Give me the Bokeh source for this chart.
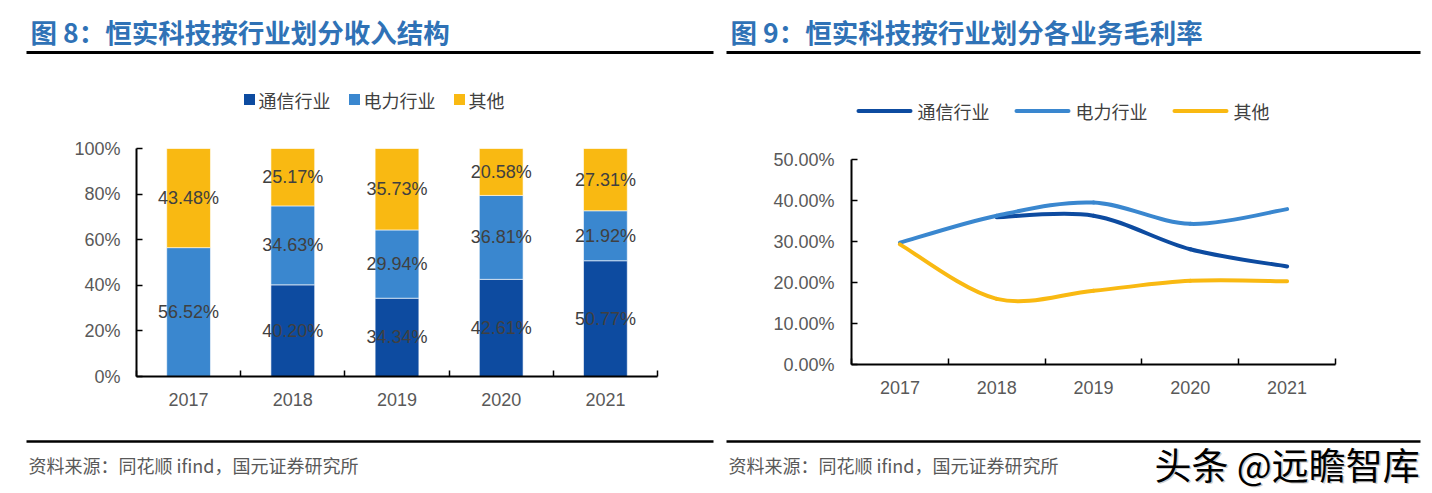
from bokeh.plotting import figure
from bokeh.layouts import row, column
from bokeh.models import Range1d, FixedTicker, PrintfTickFormatter, ColumnDataSource
from bokeh.core.properties import value
from bokeh.embed import file_html
from bokeh.resources import INLINE

# ---------------- data ----------------
years = ["2017", "2018", "2019", "2020", "2021"]
series = ["通信行业", "电力行业", "其他"]
colors = ["#0D4BA0", "#3A87CF", "#F9B912"]

# revenue structure (%)
rev_tongxin = [0.0, 40.20, 34.34, 42.61, 50.77]
rev_dianli = [56.52, 34.63, 29.94, 36.81, 21.92]
rev_qita = [43.48, 25.17, 35.73, 20.58, 27.31]

# gross margin (%)
gm_tongxin = [None, 35.9, 36.3, 28.1, 23.9]
gm_dianli = [29.7, 36.3, 39.5, 34.3, 37.9]
gm_qita = [29.3, 16.0, 18.0, 20.4, 20.3]

left_title = "图 8：恒实科技按行业划分收入结构"
right_title = "图 9：恒实科技按行业划分各业务毛利率"
source_note = "资料来源：同花顺 ifind，国元证券研究所"
watermark = "头条 @远瞻智库"

CJK = value("Noto Sans CJK SC")
ARIAL = value("Liberation Sans")
TITLE_BLUE = "#2F72B6"
AXIS_GRAY = "#595959"
LABEL_GRAY = "#404040"

LW, RW = 716, 708
HDR_H, PLOT_H, FTR_H = 130, 295, 68


def canvas(w, h):
    f = figure(width=w, height=h, x_range=Range1d(0, w), y_range=Range1d(h, 0),
               x_axis_type=None, y_axis_type=None, toolbar_location=None,
               output_backend="svg", min_border=0, outline_line_color=None,
               frame_align=False)
    f.grid.visible = False
    return f


def header(w, title, title_x, line_x0, line_x1):
    f = canvas(w, HDR_H)
    f.text(x=[title_x], y=[31], text=[title], text_font=CJK, text_font_size="26.5px",
           text_font_style="bold", text_color=TITLE_BLUE, text_baseline="middle")
    f.segment(x0=[line_x0], y0=[52], x1=[line_x1], y1=[52], line_color="black", line_width=3)
    return f


def footer(w, text_x, line_x0, line_x1, mark=False):
    f = canvas(w, FTR_H)
    f.segment(x0=[line_x0], y0=[16], x1=[line_x1], y1=[16], line_color="black", line_width=2.5)
    f.text(x=[text_x], y=[39], text=[source_note], text_font=CJK, text_font_size="18px",
           text_color=AXIS_GRAY, text_baseline="middle")
    if mark:
        f.text(x=[438], y=[38], text=[watermark], text_font=CJK, text_font_size="37px",
               text_color="#cccccc", text_baseline="middle", x_offset=1.5, y_offset=1.5)
        f.text(x=[438], y=[38], text=[watermark], text_font=CJK, text_font_size="37px",
               text_color="black", text_baseline="middle")
    return f


def style_axes(p, y_fmt, y_ticks, label_standoff_y, label_standoff_x):
    n = len(years)
    p.xaxis.ticker = FixedTicker(ticks=list(range(n)),
                                 minor_ticks=[i - 0.5 for i in range(n + 1)])
    p.xaxis.major_label_overrides = {i: y for i, y in enumerate(years)}
    p.xaxis.major_tick_line_color = None
    p.xaxis.minor_tick_line_color = "black"
    p.xaxis.minor_tick_line_width = 1.5
    p.xaxis.minor_tick_in = 6
    p.xaxis.minor_tick_out = 0
    p.xaxis.major_label_standoff = label_standoff_x
    p.yaxis.ticker = FixedTicker(ticks=y_ticks)
    p.yaxis.formatter = PrintfTickFormatter(format=y_fmt)
    p.yaxis.major_tick_in = 6
    p.yaxis.major_tick_out = 0
    p.yaxis.major_tick_line_color = "black"
    p.yaxis.major_tick_line_width = 1.5
    p.yaxis.minor_tick_line_color = None
    p.yaxis.major_label_standoff = label_standoff_y
    for ax in (p.xaxis, p.yaxis):
        ax.axis_line_color = "black"
        ax.axis_line_width = 2
        ax.major_label_text_font = "Liberation Sans"
        ax.major_label_text_font_size = "18px"
        ax.major_label_text_color = AXIS_GRAY
    p.grid.visible = False
    p.outline_line_color = None


# ---------------- left: stacked bars ----------------
hL = header(LW, left_title, 30, 26, 713)
leg_x = [249, 354, 459]
hL.rect(x=leg_x, y=[99, 99, 99], width=11, height=11, fill_color=colors, line_color=None)
hL.text(x=[x + 9 for x in leg_x], y=[99, 99, 99], text=series, text_font=CJK,
        text_font_size="18px", text_color=LABEL_GRAY, text_baseline="middle")

pL = figure(width=LW, height=PLOT_H, x_range=Range1d(-0.5, len(years) - 0.5),
            y_range=Range1d(0, 100), toolbar_location=None, output_backend="svg",
            min_border_left=136, min_border_right=59, min_border_top=18, min_border_bottom=49,
            frame_align=False)
xs = list(range(len(years)))
src = ColumnDataSource(dict(x=xs, tx=rev_tongxin, dl=rev_dianli, qt=rev_qita))
pL.vbar_stack(["tx", "dl", "qt"], x="x", width=0.42, color=colors, source=src,
              line_color="white", line_width=0.6)
lab_x, lab_y, lab_t = [], [], []
for i in xs:
    base = 0.0
    for v in (rev_tongxin[i], rev_dianli[i], rev_qita[i]):
        if v > 0:
            lab_x.append(i)
            lab_y.append(base + v / 2)
            lab_t.append("%.2f%%" % v)
        base += v
pL.text(x=lab_x, y=lab_y, text=lab_t, text_font=ARIAL, text_font_size="18px",
        text_color=LABEL_GRAY, text_align="center", text_baseline="middle")
style_axes(pL, "%d%%", [0, 20, 40, 60, 80, 100], 16, 10)

fL = footer(LW, 28, 26, 713)

# ---------------- right: smoothed lines ----------------
hR = header(RW, right_title, 14, 10, 704)
leg2_x = [142, 300, 458]
hR.segment(x0=leg2_x, y0=[110.5] * 3, x1=[x + 52 for x in leg2_x], y1=[110.5] * 3,
           line_color=colors, line_width=4, line_cap="round")
hR.text(x=[x + 59 for x in leg2_x], y=[110.5] * 3, text=series, text_font=CJK,
        text_font_size="18px", text_color=LABEL_GRAY, text_baseline="middle")

pR = figure(width=RW, height=PLOT_H, x_range=Range1d(-0.5, len(years) - 0.5),
            y_range=Range1d(0, 50), toolbar_location=None, output_backend="svg",
            min_border_left=135, min_border_right=89, min_border_top=29, min_border_bottom=61,
            frame_align=False)


def smooth(vals):
    pts = [(i, v) for i, v in enumerate(vals) if v is not None]
    n = len(pts)
    seg = dict(x0=[], y0=[], x1=[], y1=[], cx0=[], cy0=[], cx1=[], cy1=[])
    for i in range(n - 1):
        p0 = pts[i - 1] if i > 0 else pts[i]
        p1 = pts[i]
        p2 = pts[i + 1]
        p3 = pts[i + 2] if i + 2 < n else pts[i + 1]
        seg["x0"].append(p1[0]); seg["y0"].append(p1[1])
        seg["x1"].append(p2[0]); seg["y1"].append(p2[1])
        seg["cx0"].append(p1[0] + (p2[0] - p0[0]) / 6)
        seg["cy0"].append(p1[1] + (p2[1] - p0[1]) / 6)
        seg["cx1"].append(p2[0] - (p3[0] - p1[0]) / 6)
        seg["cy1"].append(p2[1] - (p3[1] - p1[1]) / 6)
    return ColumnDataSource(seg)


for vals, c in zip([gm_tongxin, gm_dianli, gm_qita], colors):
    pR.bezier(x0="x0", y0="y0", x1="x1", y1="y1", cx0="cx0", cy0="cy0", cx1="cx1",
              cy1="cy1", source=smooth(vals), line_color=c, line_width=4, line_cap="round")
style_axes(pR, "%.2f%%", [0, 10, 20, 30, 40, 50], 17, 10)

fR = footer(RW, 12, 10, 704, mark=True)

layout = row(column(hL, pL, fL), column(hR, pR, fR))
open("out.html", "w").write(file_html(layout, INLINE))
